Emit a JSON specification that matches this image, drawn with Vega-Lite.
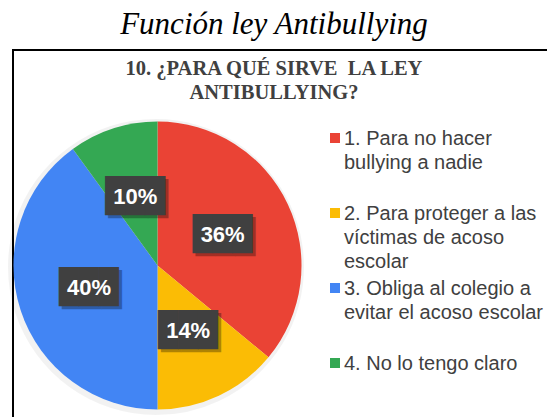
{
  "$schema": "https://vega.github.io/schema/vega-lite/v6.json",
  "width": 534,
  "height": 367,
  "autosize": {"type": "none"},
  "padding": {"left": 13, "top": 50, "right": 0, "bottom": 0},
  "background": "white",
  "title": {
    "text": "Función ley Antibullying",
    "subtitle": ["10. ¿PARA QUÉ SIRVE\u00a0 LA LEY", "ANTIBULLYING?"],
    "anchor": "middle",
    "frame": "group",
    "orient": "top",
    "offset": -54,
    "dx": -6,
    "font": "Liberation Serif",
    "fontSize": 31,
    "fontStyle": "italic",
    "fontWeight": "normal",
    "color": "#000000",
    "subtitleFont": "Liberation Serif",
    "subtitleFontSize": 20.5,
    "subtitleFontWeight": "bold",
    "subtitleColor": "#404040",
    "subtitleLineHeight": 24,
    "subtitlePadding": 18
  },
  "config": {
    "view": {"stroke": "#000000", "strokeWidth": 2, "strokeDash": [534, 901, 367], "strokeCap": "square"}
  },
  "data": {
    "values": [
      {"categoria": "1. Para no hacer\nbullying a nadie", "porcentaje": 0.36},
      {"categoria": "2. Para proteger a las\nvíctimas de acoso\nescolar", "porcentaje": 0.14},
      {"categoria": "3. Obliga al colegio a\nevitar el acoso escolar", "porcentaje": 0.40},
      {"categoria": "4. No lo tengo claro", "porcentaje": 0.10}
    ]
  },
  "layer": [
    {
      "mark": {"type": "arc", "radius": 148, "color": "#000000", "opacity": 0.05},
      "encoding": {
        "theta": {"field": "porcentaje", "type": "quantitative", "stack": true},
        "order": {"field": "categoria", "type": "nominal"},
        "x": {"value": 143},
        "y": {"value": 217}
      }
    },
    {
      "mark": {"type": "arc", "radius": 144},
      "encoding": {
        "theta": {"field": "porcentaje", "type": "quantitative", "stack": true},
        "order": {"field": "categoria", "type": "nominal"},
        "color": {
          "field": "categoria",
          "type": "nominal",
          "scale": {
            "domain": [
              "1. Para no hacer\nbullying a nadie",
              "2. Para proteger a las\nvíctimas de acoso\nescolar",
              "3. Obliga al colegio a\nevitar el acoso escolar",
              "4. No lo tengo claro"
            ],
            "range": ["#EA4335", "#FBBC05", "#4285F4", "#34A853"]
          },
          "legend": null
        },
        "x": {"value": 144.5},
        "y": {"value": 215.5}
      }
    },
    {
      "mark": {"type": "text", "font": "DejaVu Sans Mono", "fontSize": 33, "align": "center", "baseline": "middle", "color": "#000000", "opacity": 0.3, "dx": 3, "dy": 3},
      "encoding": {
        "theta": {"field": "porcentaje", "type": "quantitative", "stack": true},
        "order": {"field": "categoria", "type": "nominal"},
        "radius": {"value": 72},
        "text": {"value": "███"},
        "x": {"value": 144.5},
        "y": {"value": 215.5}
      }
    },
    {
      "mark": {"type": "text", "font": "DejaVu Sans Mono", "fontSize": 33, "align": "center", "baseline": "middle", "color": "#404040"},
      "encoding": {
        "theta": {"field": "porcentaje", "type": "quantitative", "stack": true},
        "order": {"field": "categoria", "type": "nominal"},
        "radius": {"value": 72},
        "text": {"value": "███"},
        "x": {"value": 144.5},
        "y": {"value": 215.5}
      }
    },
    {
      "mark": {"type": "text", "font": "Liberation Sans", "fontSize": 22, "fontWeight": "bold", "align": "center", "baseline": "middle", "color": "#ffffff"},
      "encoding": {
        "theta": {"field": "porcentaje", "type": "quantitative", "stack": true},
        "order": {"field": "categoria", "type": "nominal"},
        "radius": {"value": 72},
        "text": {"field": "porcentaje", "type": "quantitative", "format": ".0%"},
        "x": {"value": 144.5},
        "y": {"value": 215.5}
      }
    },
    {
      "mark": {"type": "point", "shape": "square", "filled": true, "size": 100, "opacity": 1},
      "encoding": {
        "x": {"value": 322},
        "y": {"field": "categoria", "type": "nominal", "sort": null, "scale": {"type": "point", "range": [88, 313], "padding": 0}, "axis": null},
        "color": {"field": "categoria", "type": "nominal", "legend": null}
      }
    },
    {
      "mark": {"type": "text", "font": "Liberation Sans", "fontSize": 20, "align": "left", "baseline": "alphabetic", "dy": 7, "lineBreak": "\n", "lineHeight": 24, "color": "#404040"},
      "encoding": {
        "x": {"value": 331},
        "y": {"field": "categoria", "type": "nominal", "sort": null, "axis": null},
        "text": {"field": "categoria", "type": "nominal"}
      }
    }
  ]
}
